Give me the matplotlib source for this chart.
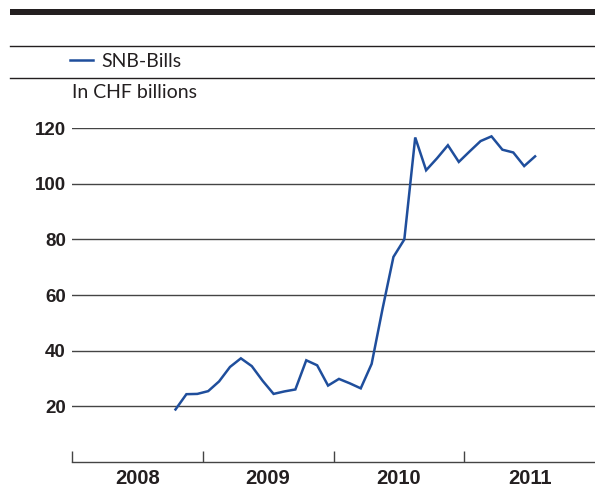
# SNB-Bills outstanding, monthly, in CHF billions

import matplotlib
matplotlib.use("Agg")
import matplotlib.pyplot as plt
from matplotlib.lines import Line2D
from matplotlib.patches import Rectangle

# months counted from January 2008 (0 = Jan 2008), series runs Oct 2008 - Jul 2011
months = list(range(9, 43))
snb_bills = [18.8, 24.3, 24.4,                                      # 2008 Oct-Dec
             25.4, 28.9, 34.1, 37.2, 34.4, 29.1, 24.4, 25.3, 26.0, 36.5, 34.7, 27.4,   # 2009
             29.8, 28.2, 26.4, 35.2, 55.0, 73.7, 80.0, 116.7, 104.9, 109.2, 113.9, 107.9,  # 2010
             111.7, 115.4, 117.1, 112.3, 111.3, 106.4, 109.9]      # 2011 Jan-Jul
years = ["2008", "2009", "2010", "2011"]
yticks = [20, 40, 60, 80, 100, 120]

W, H = 595, 487
plt.rcParams["font.family"] = ["Lato", "DejaVu Sans"]
bold = dict(fontweight="bold", color="#231f20", family=["Liberation Sans", "DejaVu Sans"])
fig = plt.figure(figsize=(W / 100, H / 100), dpi=100)

def fx(px):
    return px / W

def fy(py):
    return 1 - py / H

ax = fig.add_axes([fx(72), fy(461.7), fx(W) - fx(72), fy(128.3) - fy(461.7)])
line, = ax.plot([m + 0.5 for m in months], snb_bills, color="#1f4e9c", lw=1.8,
                solid_joinstyle="miter")

ax.set_xlim(0, 48)
ax.set_ylim(0, 120)
for s in ["top", "left", "right"]:
    ax.spines[s].set_visible(False)
ax.spines["bottom"].set_color("#444444")
ax.spines["bottom"].set_linewidth(1.0)

ax.set_yticks(yticks)
ax.set_yticklabels([str(v) for v in yticks], fontsize=13.5, **bold)
ax.tick_params(axis="y", length=0, pad=4.5)
ax.grid(axis="y", color="#444444", lw=1.0)
ax.set_axisbelow(True)

ax.set_xticks([0, 12, 24, 36])
ax.set_xticklabels([])
ax.set_xticks([6, 18, 30, 42], minor=True)
ax.set_xticklabels(years, minor=True, fontsize=14.5, **bold)
ax.tick_params(axis="x", which="major", direction="in", length=8, width=1.0, color="#444444")
ax.tick_params(axis="x", which="minor", length=0, pad=5.5)

# header: thick bar and thin rules
fig.add_artist(Rectangle((fx(10), fy(14.7)), 1 - fx(10), fy(9.3) - fy(14.7),
                         transform=fig.transFigure, color="#231f20", lw=0))
for py in [46, 78.3]:
    fig.add_artist(Line2D([fx(10), 1], [fy(py), fy(py)], transform=fig.transFigure,
                          color="#231f20", lw=1.0))

fig.legend([line], ["SNB-Bills"], loc="center left", bbox_to_anchor=(fx(70), fy(61.5)),
           frameon=False, fontsize=14, handlelength=1.2, handletextpad=0.42,
           borderpad=0, borderaxespad=0, labelcolor="#231f20")
fig.text(fx(72), fy(93), "In CHF billions", fontsize=14, color="#231f20", va="center", ha="left")

fig.savefig("out.png", dpi=100)
